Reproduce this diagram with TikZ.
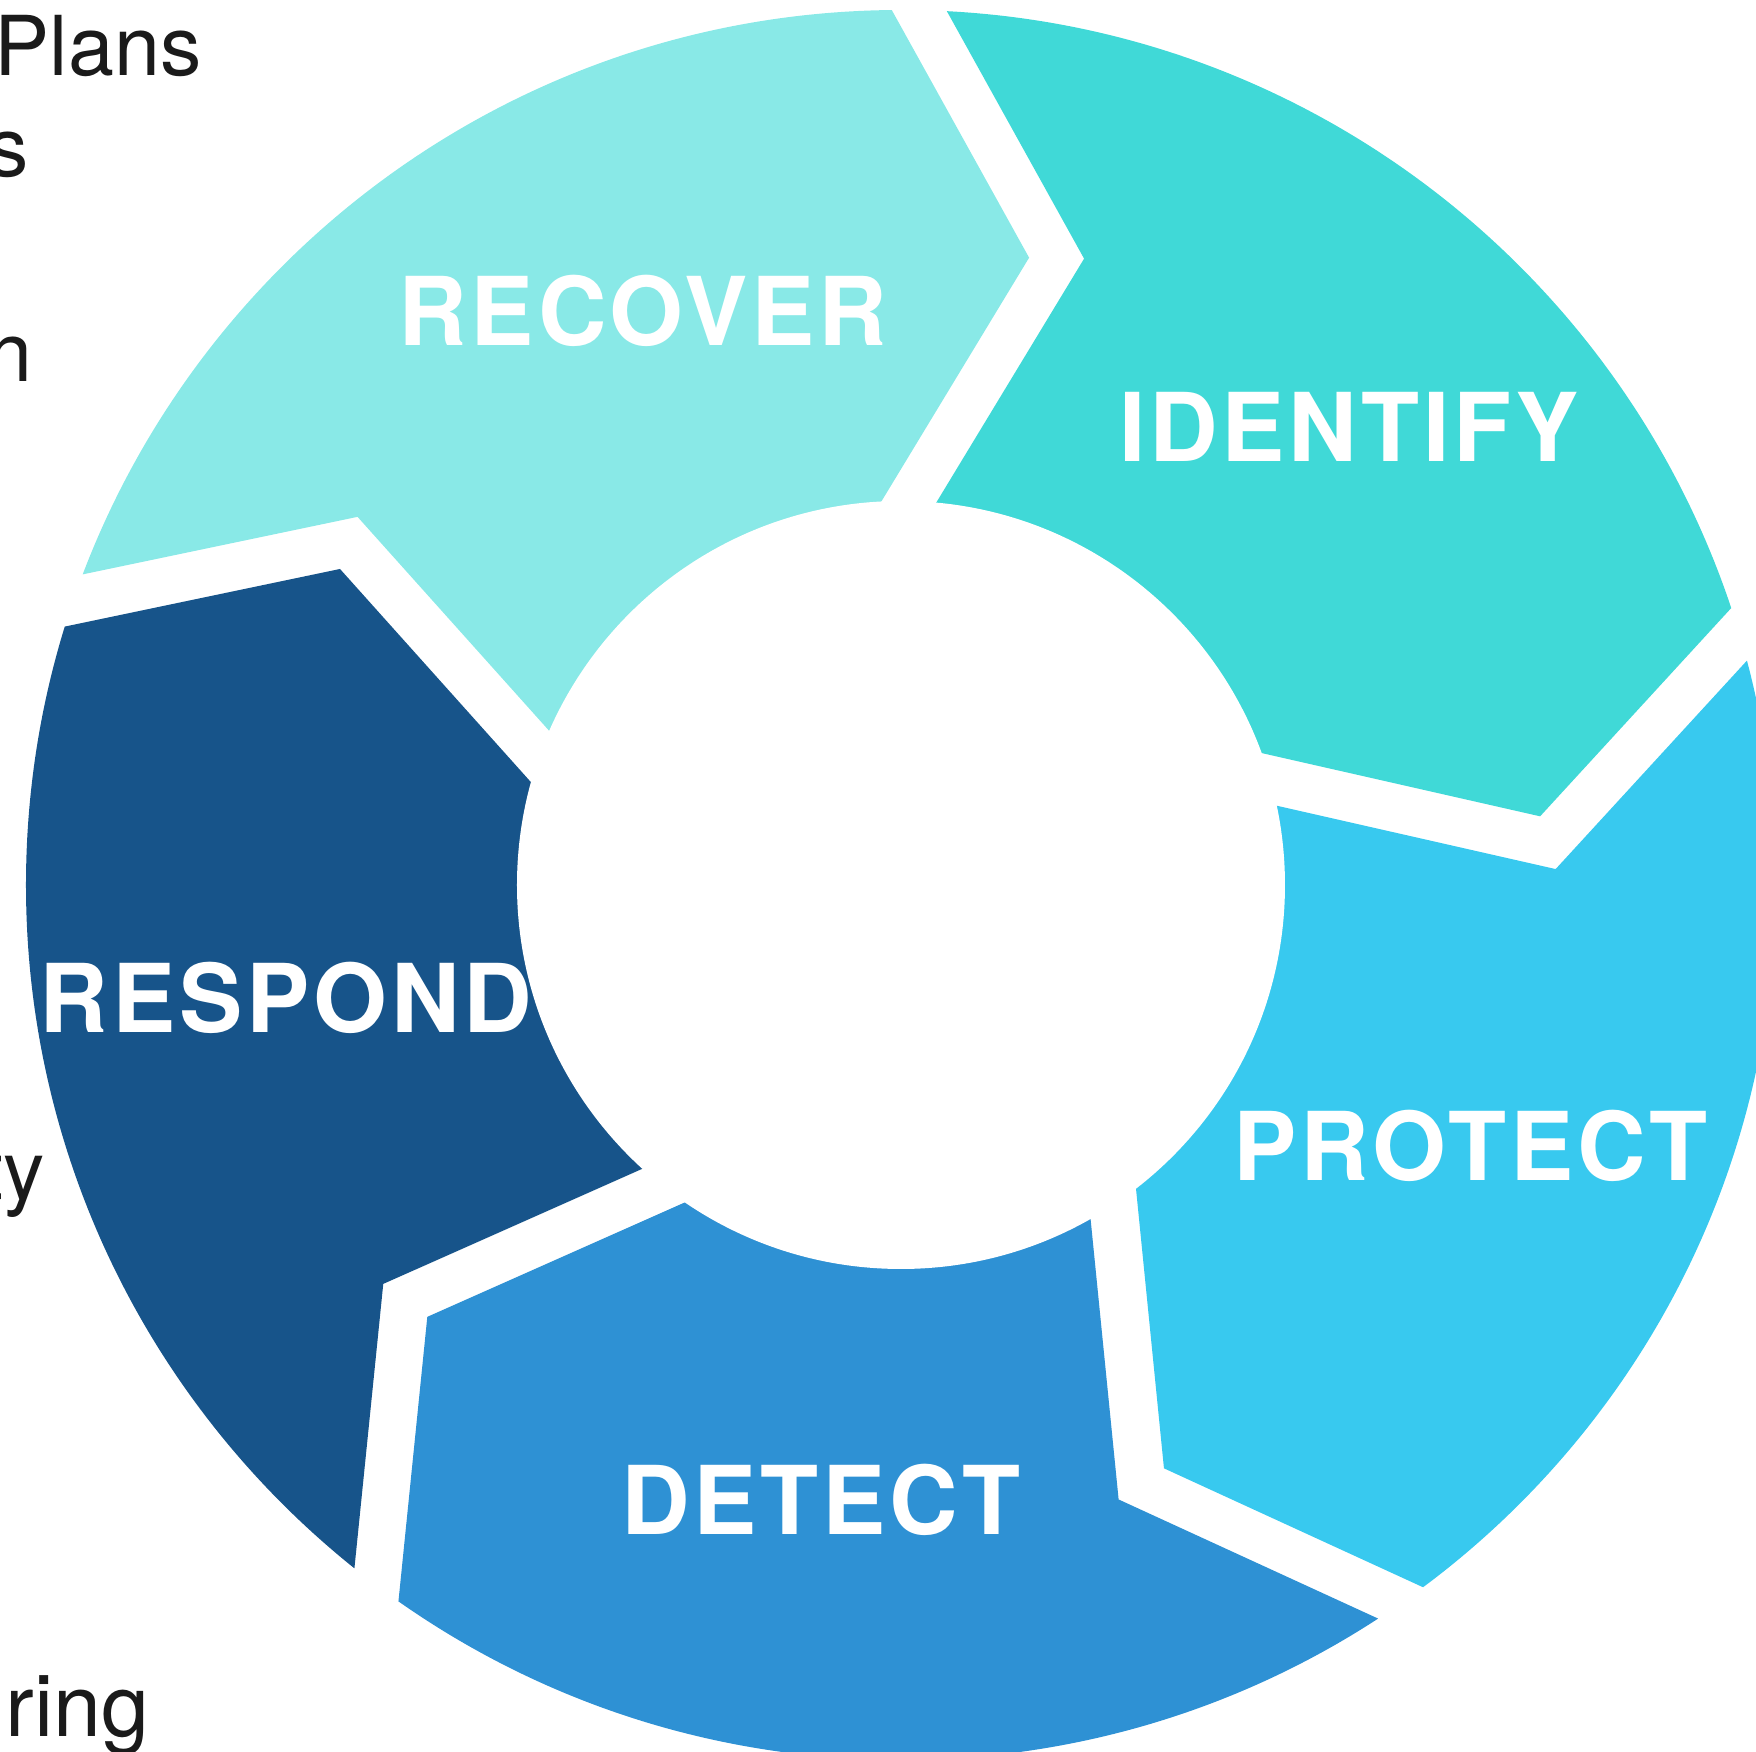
\documentclass[tikz,border=0pt]{standalone}
\usepackage{fontspec}
\setmainfont{TeX Gyre Heros}
\usetikzlibrary{calc}

\definecolor{recoverc}{HTML}{89E9E7}
\definecolor{identifyc}{HTML}{40D9D7}
\definecolor{protectc}{HTML}{38C9EF}
\definecolor{detectc}{HTML}{2E91D4}
\definecolor{respondc}{HTML}{17548A}
\definecolor{notetext}{HTML}{1A1A1A}

\tikzset{
    steplabel/.style={text=white, inner sep=0pt,
        font=\fontsize{27}{32}\selectfont\bfseries\addfontfeature{LetterSpace=4}},
    sidenote/.style={text=notetext, inner sep=0pt, font=\fontsize{23.5}{28}\selectfont},
}

\begin{document}
\begin{tikzpicture}[x=0.01cm, y=0.01cm, line join=miter]
    \pgfmathsetmacro{\rout}{875}
    \pgfmathsetmacro{\rin}{384}
    \pgfmathsetmacro{\halfgap}{27.5}
    \useasboundingbox (-901,-872) rectangle (855,880);
    \coordinate (c) at (0,-5);

    % chevron between two steps, clockwise from the top:
    % outer end, tip angle, inner end, tip radius
    \foreach \i/\ao/\am/\ai/\rm in {0/89.0/75.95/88.3/641, 1/16.4/3.3/15.1/648,
            2/-55.5/-68.3/-56.5/650, 3/-126.8/-139.7/-127.6/650, 4/-198.6/-211.4/-199.1/647} {
        \coordinate (o\i) at (\ao:\rout);
        \coordinate (m\i) at (\am:\rm);
        \coordinate (n\i) at (\ai:\rin);
        \coordinate (t\i) at (\ao+90:\halfgap);
    }

    \begin{scope}
        \clip (c) circle (\rout);
        % identify
        \fill[identifyc] ($(m0)!1.5!(o0)-(t0)$) -- ($(m0)-(t0)$) -- ($(m0)!1.6!(n0)-(t0)$)
            -- ($(m1)!1.6!(n1)+(t1)$) -- ($(m1)+(t1)$) -- ($(m1)!1.5!(o1)+(t1)$)
            -- (52.2:1400) -- cycle;
        % protect
        \fill[protectc] ($(m1)!1.5!(o1)-(t1)$) -- ($(m1)-(t1)$) -- ($(m1)!1.6!(n1)-(t1)$)
            -- ($(m2)!1.6!(n2)+(t2)$) -- ($(m2)+(t2)$) -- ($(m2)!1.5!(o2)+(t2)$)
            -- (-20.2:1400) -- cycle;
        % detect
        \fill[detectc] ($(m2)!1.5!(o2)-(t2)$) -- ($(m2)-(t2)$) -- ($(m2)!1.6!(n2)-(t2)$)
            -- ($(m3)!1.6!(n3)+(t3)$) -- ($(m3)+(t3)$) -- ($(m3)!1.5!(o3)+(t3)$)
            -- (-91.6:1400) -- cycle;
        % respond
        \fill[respondc] ($(m3)!1.5!(o3)-(t3)$) -- ($(m3)-(t3)$) -- ($(m3)!1.6!(n3)-(t3)$)
            -- ($(m4)!1.6!(n4)+(t4)$) -- ($(m4)+(t4)$) -- ($(m4)!1.5!(o4)+(t4)$)
            -- (-163.1:1400) -- cycle;
        % recover
        \fill[recoverc] ($(m4)!1.5!(o4)-(t4)$) -- ($(m4)-(t4)$) -- ($(m4)!1.6!(n4)-(t4)$)
            -- ($(m0)!1.6!(n0)+(t0)$) -- ($(m0)+(t0)$) -- ($(m0)!1.5!(o0)+(t0)$)
            -- (124.9:1400) -- cycle;
    \end{scope}
    \fill[white] (c) circle (\rin);

    \node[steplabel] (recover) at (-258,569) {RECOVER};
    \node[steplabel] (identify) at (448,453) {IDENTIFY};
    \node[steplabel] (protect) at (570,-266) {PROTECT};
    \node[steplabel] (detect) at (-80,-620) {DETECT};
    \node[steplabel] (respond) at (-615,-118) {RESPOND};

    % cut-off list on the left
    \node[sidenote, anchor=base west] (plans) at (-907,804) {Plans};
    \node[sidenote, anchor=base east] (lines) at (-871,703) {s};
    \node[sidenote, anchor=base east] (linen) at (-868,498) {n};
    \node[sidenote, anchor=base east] (linety) at (-855,-320) {ty};
    \node[sidenote, anchor=base east, font=\fontsize{24.5}{28}\selectfont] (linering) at (-751,-857) {ring};
\end{tikzpicture}
\end{document}
